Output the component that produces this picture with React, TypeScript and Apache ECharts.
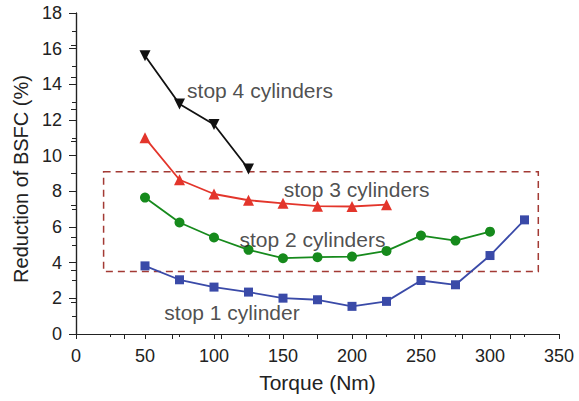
import React, { useEffect, useRef } from "react";
import * as echarts from "echarts";

const torque = [50, 75, 100, 125, 150, 175, 200, 225, 250, 275, 300, 325];
const stop1 = [3.82, 3.04, 2.63, 2.35, 2.01, 1.92, 1.55, 1.83, 3.0, 2.76, 4.4, 6.4];
const stop2 = [7.65, 6.25, 5.41, 4.72, 4.25, 4.31, 4.34, 4.66, 5.52, 5.24, 5.74];
const stop3 = [11.0, 8.65, 7.85, 7.5, 7.33, 7.17, 7.15, 7.25];
const stop4 = [15.6, 12.9, 11.75, 9.25];

const xTicks = [0, 50, 100, 150, 200, 250, 300, 350];
const yTicks = [0, 2, 4, 6, 8, 10, 12, 14, 16, 18];

const boxCorners = [
  [20, 9.1],
  [335, 3.5],
];

const labelTexts = ["stop 4 cylinders", "stop 3 cylinders", "stop 2 cylinders", "stop 1 cylinder"];
const labelAnchors = [
  [80.5, 13.65],
  [150.5, 8.12],
  [118.5, 5.3],
  [64, 1.18],
];

const FONT = "'Liberation Sans', Arial, sans-serif";
const TEXT = "#222";

function pairs(vals: number[]) {
  return vals.map((v, i) => [torque[i], v]);
}

export default function App() {
  const ref = useRef<HTMLDivElement>(null);
  useEffect(() => {
    document.body.style.margin = "0";
    const chart = echarts.init(ref.current!, null, { renderer: "svg" });
    const axisColor = "#222";
    const option: any = {
      animation: false,
      backgroundColor: "#fff",
      grid: { left: 76, right: 20, top: 13, bottom: 67 },
      graphic: [
        {
          type: "text",
          x: 21,
          y: 179,
          rotation: Math.PI / 2,
          style: {
            text: "Reduction of BSFC (%)",
            fontSize: 20,
            fontFamily: FONT,
            fill: TEXT,
            align: "center",
            verticalAlign: "middle",
          },
        },
      ],
      xAxis: [
        {
          type: "value",
          min: xTicks[0],
          max: xTicks[xTicks.length - 1],
          interval: 50,
          name: "Torque (Nm)",
          nameLocation: "middle",
          nameGap: 38,
          nameTextStyle: { fontSize: 21, color: TEXT, fontFamily: FONT },
          axisLine: { show: true, lineStyle: { color: axisColor, width: 1.2 } },
          axisTick: { show: true, inside: false, length: 5, lineStyle: { color: axisColor } },
          minorTick: { show: true, splitNumber: 2, length: 3, lineStyle: { color: axisColor } },
          splitLine: { show: false },
          axisLabel: { fontSize: 18, color: TEXT, fontFamily: FONT, margin: 13 },
        },
        {
          type: "value",
          position: "top",
          min: 0,
          max: 350,
          interval: 35,
          axisLine: { show: true, lineStyle: { color: axisColor, width: 1.2 } },
          axisTick: { show: true, inside: true, length: 5, lineStyle: { color: axisColor } },
          axisLabel: { show: false },
          splitLine: { show: false },
        },
      ],
      yAxis: [
        {
          type: "value",
          min: yTicks[0],
          max: yTicks[yTicks.length - 1],
          interval: 2,
          axisLine: { show: true, lineStyle: { color: axisColor, width: 1.2 } },
          axisTick: { show: true, inside: false, length: 7, lineStyle: { color: axisColor } },
          minorTick: { show: true, splitNumber: 2, length: 4, lineStyle: { color: axisColor } },
          splitLine: { show: false },
          axisLabel: { fontSize: 18, color: TEXT, fontFamily: FONT, margin: 14 },
        },
        {
          type: "value",
          position: "right",
          min: 0,
          max: 18,
          interval: 1.8,
          axisLine: { show: true, lineStyle: { color: axisColor, width: 1.2 } },
          axisTick: { show: true, inside: true, length: 5, lineStyle: { color: axisColor } },
          axisLabel: { show: false },
          splitLine: { show: false },
        },
      ],
      series: [
        {
          type: "line",
          name: "stop 1 cylinder",
          data: pairs(stop1),
          symbol: "rect",
          symbolSize: 9,
          lineStyle: { color: "#3a4aa8", width: 1.8 },
          itemStyle: { color: "#3a4aa8" },
          z: 3,
        },
        {
          type: "line",
          name: "stop 2 cylinders",
          data: pairs(stop2),
          symbol: "circle",
          symbolSize: 10,
          lineStyle: { color: "#168a1c", width: 1.8 },
          itemStyle: { color: "#168a1c" },
          z: 3,
        },
        {
          type: "line",
          name: "stop 3 cylinders",
          data: pairs(stop3),
          symbol: "triangle",
          symbolSize: 11,
          lineStyle: { color: "#e3352b", width: 1.8 },
          itemStyle: { color: "#e3352b" },
          z: 3,
        },
        {
          type: "line",
          name: "stop 4 cylinders",
          data: pairs(stop4),
          symbol: "triangle",
          symbolRotate: 180,
          symbolSize: 11,
          lineStyle: { color: "#111", width: 1.8 },
          itemStyle: { color: "#111" },
          z: 3,
          markArea: {
            silent: true,
            itemStyle: {
              color: "rgba(0,0,0,0)",
              borderColor: "#a33a34",
              borderWidth: 1.5,
              borderType: [7, 5],
            },
            data: [[{ coord: boxCorners[0] }, { coord: boxCorners[1] }]],
          },
        },
        {
          type: "scatter",
          name: "labels",
          symbolSize: 0,
          silent: true,
          data: labelAnchors.map((p, i) => ({ value: p, name: labelTexts[i] })),
          label: {
            show: true,
            position: "right",
            distance: 0,
            formatter: (p: any) => p.name,
            fontSize: 21,
            color: TEXT,
            fontFamily: FONT,
          },
          z: 5,
        },
      ],
    };
    chart.setOption(option);
    return () => chart.dispose();
  }, []);
  return <div ref={ref} style={{ width: 579, height: 401 }} />;
}
